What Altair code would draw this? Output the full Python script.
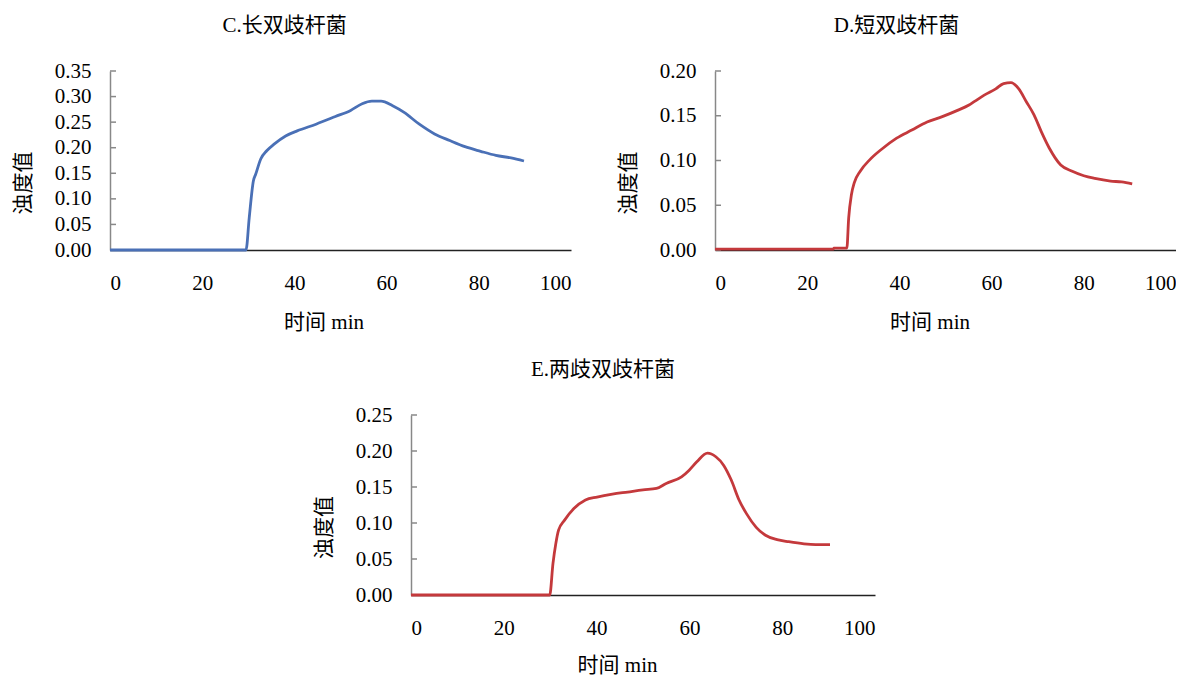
import altair as alt
import pandas as pd

FONT = "Liberation Serif, Noto Sans CJK SC"

# ---- data ----
C_t = [0, 29.5, 30.2, 31.1, 31.6, 32.7, 34, 35.6, 38.1, 40.6, 44.7, 48.9, 52.2, 54.7, 56.8, 58.8,
       61.3, 63.8, 67.1, 70.4, 73.7, 77, 80.4, 83.7, 87, 89.8]
C_v = [0, 0, 0.063, 0.135, 0.148, 0.178, 0.194, 0.207, 0.223, 0.233, 0.246, 0.261, 0.273, 0.286,
       0.291, 0.291, 0.282, 0.269, 0.246, 0.227, 0.214, 0.202, 0.193, 0.185, 0.180, 0.174]

D_t = [0, 25.7, 25.8, 28.6, 29.0, 29.6, 30.2, 31.5, 33.6, 36, 39.4, 42.7, 46, 49.3, 52.6, 55.1,
       56.3, 58.4, 60.9, 62.6, 64.2, 65.9, 67.5, 69.2, 70.8, 72.5, 75, 77.5, 80, 82.4, 85.8, 88.2, 90.5]
D_v = [0.001, 0.001, 0.002, 0.002, 0.036, 0.062, 0.075, 0.088, 0.101, 0.112, 0.125, 0.134, 0.143,
       0.149, 0.156, 0.162, 0.166, 0.173, 0.180, 0.186, 0.187, 0.180, 0.166, 0.151, 0.132, 0.114,
       0.095, 0.088, 0.083, 0.080, 0.077, 0.076, 0.074]

E_t = [0, 29.9, 30.6, 31.2, 31.8, 33.1, 35.1, 37.6, 40.1, 43.4, 46.7, 50, 52.9, 55, 58.3, 59.9,
       61.6, 63.9, 65.7, 67.4, 69, 70.7, 72.3, 74.4, 76.4, 78.9, 81.4, 84.7, 87.2, 90.3]
E_v = [0, 0, 0.044, 0.071, 0.090, 0.104, 0.120, 0.132, 0.136, 0.140, 0.143, 0.146, 0.148, 0.155,
       0.164, 0.173, 0.185, 0.197, 0.192, 0.180, 0.160, 0.132, 0.113, 0.094, 0.083, 0.077, 0.074,
       0.071, 0.070, 0.070]

C_ticks = [0, 0.05, 0.10, 0.15, 0.20, 0.25, 0.30, 0.35]
D_ticks = [0, 0.05, 0.10, 0.15, 0.20]
E_ticks = [0, 0.05, 0.10, 0.15, 0.20, 0.25]
X_ticks = [0, 20, 40, 60, 80, 100]

titles = ["C.长双歧杆菌", "D.短双歧杆菌", "E.两歧双歧杆菌"]
x_title = "时间 min"
y_title = "浊度值"
BLUE = "#4a70b6"
RED = "#c4393c"


def panel(title, t, v, ticks, color, w, h, xt_dx, title_dx, xt_y):
    df = pd.DataFrame({"t": t, "y": v})
    tk = pd.DataFrame({"y": ticks})
    yenc = alt.Y(
        "y:Q",
        scale=alt.Scale(domain=[0, ticks[-1]], nice=False),
        axis=alt.Axis(
            values=ticks, format=".2f", ticks=False, tickSize=0, grid=False,
            labelPadding=19, labelFontSize=21, labelFont=FONT, labelColor="#000",
            domainColor="#888888", domainWidth=1.5,
            title=y_title, titleFont=FONT, titleFontSize=21, titleFontWeight="normal",
            titleColor="#000", titleAngle=270, titleX=-87, titleY=h / 2 + 22,
            titleBaseline="middle", titleAlign="center",
        ),
    )
    xenc = alt.X(
        "t:Q",
        scale=alt.Scale(domain=[0, 100], nice=False),
        axis=alt.Axis(
            values=X_ticks, ticks=False, tickSize=0, grid=False,
            labelPadding=22, labelFontSize=21, labelFont=FONT, labelColor="#000",
            domainColor="#222222", domainWidth=1.5,
            title=x_title, titleFont=FONT, titleFontSize=21, titleFontWeight="normal",
            titleColor="#000", titleX=w / 2 + xt_dx, titleY=xt_y, titleBaseline="middle",
        ),
    )
    line = alt.Chart(df).mark_line(color=color, strokeWidth=2.8, interpolate="monotone").encode(
        x=xenc, y=yenc
    )
    tick_rules = alt.Chart(tk).mark_rule(color="#888888", strokeWidth=1.5).encode(
        y=yenc, x=alt.value(0), x2=alt.value(6)
    )
    return alt.layer(tick_rules, line).properties(
        width=w, height=h,
        title=alt.TitleParams(title, font=FONT, fontSize=21, fontWeight="normal", color="#000",
                              anchor="middle", frame="bounds", offset=24, dx=title_dx),
    )


C = panel(titles[0], C_t, C_v, C_ticks, BLUE, 461, 179, -17, -7, 72)
D = panel(titles[1], D_t, D_v, D_ticks, RED, 461, 179, -16, 0, 72)
E = panel(titles[2], E_t, E_v, E_ticks, RED, 464, 180, -26, 9, 70)

top = alt.hconcat(C, D, spacing=46)
chart = alt.vconcat(top, E, spacing=27, center=True).properties(
    padding={"left": 4, "top": 7, "right": 0, "bottom": 0},
    background="white",
).configure_view(stroke=None)

chart.save("out.html", embed_options={"renderer": "svg", "actions": False})
